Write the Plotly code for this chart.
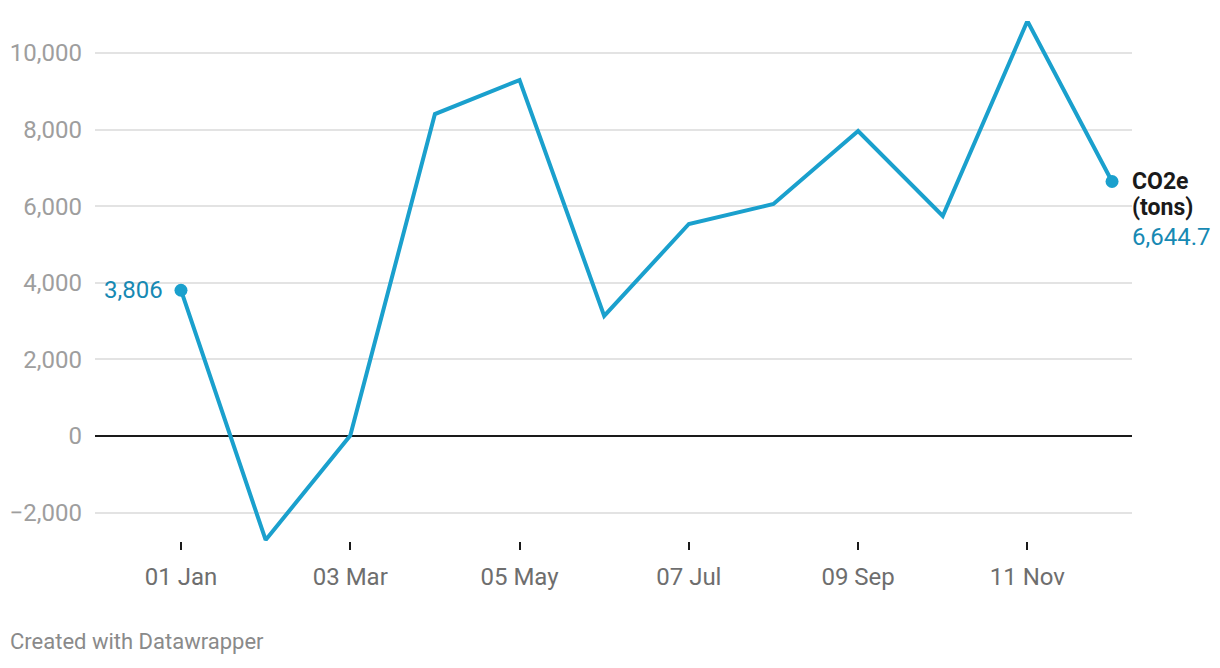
import plotly.graph_objects as go

idx = list(range(12))
values = [3806, -2715, 10, 8405, 9295, 3135, 5535, 6057, 7963, 5744, 10835, 6644.7]
tick_pos = [0, 2, 4, 6, 8, 10]
tick_text = ["01 Jan", "03 Mar", "05 May", "07 Jul", "09 Sep", "11 Nov"]
y_ticks = [-2000, 0, 2000, 4000, 6000, 8000, 10000]
y_text = ["\u22122,000", "0", "2,000", "4,000", "6,000", "8,000", "10,000"]

LINE = "#1aa0cd"
LABEL = "#1789b3"
FONT = "Roboto"

fig = go.Figure()
fig.add_trace(go.Scatter(x=idx, y=values, mode="lines",
                         line=dict(color=LINE, width=4), hoverinfo="skip",
                         cliponaxis=False))
fig.add_trace(go.Scatter(x=[idx[0], idx[-1]], y=[values[0], values[-1]], mode="markers",
                         marker=dict(color=LINE, size=13), hoverinfo="skip",
                         cliponaxis=False))

fig.add_annotation(x=idx[0], y=values[0], text="3,806", showarrow=False,
                   xanchor="right", yanchor="middle", xshift=-16,
                   font=dict(family=FONT, size=24, color=LABEL))
fig.add_annotation(x=idx[-1], y=values[-1], text="<b>CO2e</b>", showarrow=False,
                   xanchor="left", yanchor="middle", xshift=18, yshift=0,
                   font=dict(family=FONT, size=23, color="#1a1a1a"))
fig.add_annotation(x=idx[-1], y=values[-1], text="<b>(tons)</b>", showarrow=False,
                   xanchor="left", yanchor="middle", xshift=18, yshift=-26,
                   font=dict(family=FONT, size=23, color="#1a1a1a"))
fig.add_annotation(x=idx[-1], y=values[-1], text="6,644.7", showarrow=False,
                   xanchor="left", yanchor="middle", xshift=18, yshift=-55,
                   font=dict(family=FONT, size=24, color=LABEL))
fig.add_annotation(xref="paper", yref="paper", x=0, y=0, xanchor="left", yanchor="middle",
                   xshift=-87, yshift=-100, text="Created with Datawrapper", showarrow=False,
                   font=dict(family=FONT, size=22, color="#8a8a8a"))

fig.update_layout(
    width=1212, height=660,
    margin=dict(l=87, r=88, t=13, b=127),
    paper_bgcolor="white", plot_bgcolor="white",
    showlegend=False,
    font=dict(family=FONT),
    xaxis=dict(range=[-1.016, 11.236], tickvals=tick_pos, ticktext=tick_text,
               automargin=False,
               showgrid=False, zeroline=False, showline=False,
               ticks="outside", ticklen=8, tickwidth=2, tickcolor="#1a1a1a",
               ticklabelstandoff=6,
               tickfont=dict(family=FONT, size=24, color="#6e6e6e")),
    yaxis=dict(range=[-2742, 10836], tickvals=y_ticks, ticktext=y_text,
               automargin=False,
               showgrid=True, gridcolor="#e3e3e3", gridwidth=1.5,
               zeroline=True, zerolinecolor="#1a1a1a", zerolinewidth=1.5,
               showline=False, ticks="", ticklabelstandoff=12,
               tickfont=dict(family=FONT, size=24, color="#9e9e9e")),
)

fig.write_html("out.html")
